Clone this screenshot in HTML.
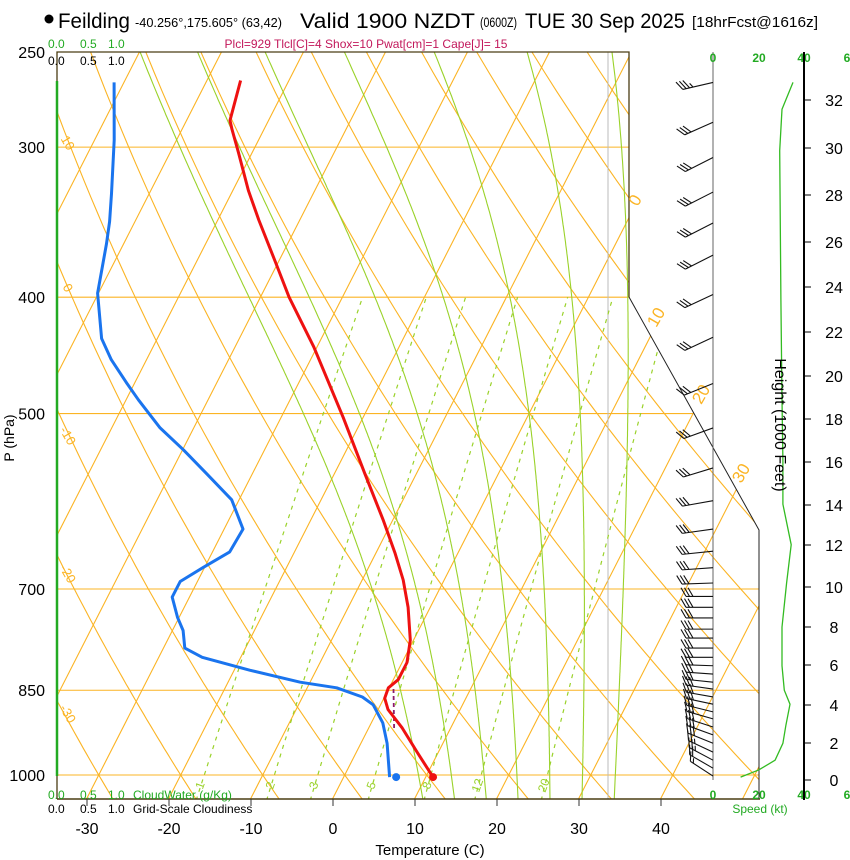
<!DOCTYPE html>
<html><head><meta charset="utf-8"><style>
body{margin:0;background:#fff;}
svg{display:block;font-family:"Liberation Sans",sans-serif;}
</style></head><body>
<svg id="chart" width="850" height="860" viewBox="0 0 850 860" xmlns="http://www.w3.org/2000/svg">
<defs><clipPath id="frameClip"><path d="M57,52 L629,52 L629,297 L759,530 L759,799 L57,799 Z"/></clipPath></defs>
<rect width="850" height="860" fill="#fff"/>
<g id="bg" clip-path="url(#frameClip)"></g>
<g id="fg"></g>
<g>
<circle cx="49" cy="19" r="4.5" fill="#000"/>
<text x="58" y="28" font-size="21" textLength="72" lengthAdjust="spacingAndGlyphs">Feilding</text>
<text x="135" y="27" font-size="12.5" textLength="147" lengthAdjust="spacingAndGlyphs">-40.256°,175.605° (63,42)</text>
<text x="300" y="28" font-size="21" textLength="175" lengthAdjust="spacingAndGlyphs">Valid 1900 NZDT</text>
<text x="480" y="27" font-size="13.5" textLength="37" lengthAdjust="spacingAndGlyphs">(0600Z)</text>
<text x="525" y="28" font-size="21" textLength="160" lengthAdjust="spacingAndGlyphs">TUE 30 Sep 2025</text>
<text x="692" y="27" font-size="15" textLength="126" lengthAdjust="spacingAndGlyphs">[18hrFcst@1616z]</text>
</g>
<text x="366" y="48" font-size="12" fill="#c2185b" text-anchor="middle">Plcl=929 Tlcl[C]=4 Shox=10 Pwat[cm]=1 Cape[J]= 15</text>
<g font-size="12">
<text x="48" y="48" fill="#22aa22">0.0</text><text x="80" y="48" fill="#22aa22">0.5</text><text x="108" y="48" fill="#22aa22">1.0</text>
<text x="48" y="65" fill="#000">0.0</text><text x="80" y="65" fill="#000">0.5</text><text x="108" y="65" fill="#000">1.0</text>
</g>
<g font-size="12">
<text x="48" y="799" fill="#22aa22">0.0</text><text x="80" y="799" fill="#22aa22">0.5</text><text x="108" y="799" fill="#22aa22">1.0</text>
<text x="133" y="799" fill="#22aa22">CloudWater (g/Kg)</text>
<text x="48" y="813" fill="#000">0.0</text><text x="80" y="813" fill="#000">0.5</text><text x="108" y="813" fill="#000">1.0</text>
<text x="133" y="813" fill="#000">Grid-Scale Cloudiness</text>
</g>
<text x="430" y="855" font-size="15" text-anchor="middle">Temperature (C)</text>
<text transform="translate(14,438) rotate(-90)" font-size="14" text-anchor="middle">P (hPa)</text>
<text transform="translate(775,425) rotate(90)" font-size="16" text-anchor="middle">Height (1000 Feet)</text>
<text x="760" y="813" font-size="12" fill="#22aa22" text-anchor="middle">Speed (kt)</text>
</svg>
<script>
const tempP=[264,285,290,303,326,345,375,400,440,504,561,613,653,688,725,772,806,833,846,863,882,914,957,1004];
const tempT=[-55.9,-54.7,-53.9,-51.7,-48.1,-45.0,-40.2,-36.5,-30.4,-22.4,-16.3,-11.2,-7.7,-5.0,-2.7,-0.4,0.6,0.6,-0.1,0.1,1.2,4.1,7.4,10.9];
const dewP=[265,296,328,346,361,397,433,451,472,487,514,536,561,590,624,652,672,690,711,739,758,784,798,818,837,846,861,874,905,941,1004];
const dewT=[-71.2,-67.6,-64.6,-63.1,-62.1,-60.1,-56.8,-54.3,-50.9,-48.5,-44.1,-39.9,-35.6,-30.9,-27.7,-27.9,-30.2,-32.1,-32.1,-30.2,-28.7,-27.4,-24.7,-18.1,-11.2,-6.4,-2.7,-0.9,1.4,3.2,5.6];
const sfcP=1004;
const sfcT=10.9;
const sfcTd=6.4;
const parcelP=[848,914];
const parcelT=[0.6,3.1];
const speedP=[265,279,302,402,487,547,595,643,692,753,811,850,873,909,941,972,990,1004];
const speedKt=[34.8,30,29,29.5,30,30.4,30.4,34,32,30,30,31,33.5,31.7,30.4,27,20,12];
const barbP=[265,286,306,327,347,369,398,432,472,514,555,591,624,651,672,692,710,725,740,756,769,784,798,811,824,837,848,861,873,886,898,912,926,941,957,972,987,1002];
const barbDir=[257,246,243,243,243,243,245,245,248,250,253,260,262,264,266,268,270,270,270,270,270,270,270,272,274,276,278,280,282,284,286,288,290,292,295,298,300,303];
const barbKt=[35,30,30,30,30,30,30,30,30,30,30,30,32,34,34,32,30,30,30,30,30,30,30,30,30,30,30,30,30,32,33,32,30,30,28,25,20,15];
const pressureTicks=[250,300,400,500,700,850,1000];
const tempTicks=[-30,-20,-10,0,10,20,30,40];
const heightTicks=[0,2,4,6,8,10,12,14,16,18,20,22,24,26,28,30,32];
const heightTickY=[780,743,705,665,627,587,545,505,462,419,376,332,287,242,195,148,100];
const mixRatios=[1,2,3,5,8,12,20];
const moistThetaW=[9,13,17,21,25,29,33];

const NS='http://www.w3.org/2000/svg';
function yP(p){return 775+521.5*Math.log(p/1000);}
function xT(t,p){return 333+8.2*t+0.51*(798-yP(p));}
function xTy(t,y){return 333+8.2*t+0.51*(798-y);}
function mk(tag,attrs,parent){const e=document.createElementNS(NS,tag);for(const k in attrs)e.setAttribute(k,attrs[k]);parent.appendChild(e);return e;}
const bg=document.getElementById('bg');
const fg=document.getElementById('fg');
const ORANGE='#fbb424', LGREEN='#9ad22a';

for(let t=-130;t<=60;t+=10){
  const l=mk('line',{x1:xTy(t,799),y1:799,x2:xTy(t,52),y2:52,stroke:ORANGE,'stroke-width':1.1},bg);
  
  
}
for(let th=-40;th<=200;th+=10){
  let d='';
  for(let p=1050;p>=245;p-=10){
    const T=(th+273.15)*Math.pow(p/1000,0.286)-273.15;
    d+=(d?'L':'M')+xT(T,p).toFixed(1)+','+yP(p).toFixed(1);
  }
  const e=mk('path',{d:d,fill:'none',stroke:ORANGE,'stroke-width':1.1},bg);
  
  
}
pressureTicks.forEach(p=>{
  if(p===250)return;
  const e=mk('line',{x1:57,x2:760,y1:yP(p),y2:yP(p),stroke:ORANGE,'stroke-width':1.1},bg);
  
  
});
const gv=mk('line',{x1:608,x2:608,y1:52,y2:799,stroke:'#bbb','stroke-width':1},bg);


function esat(tc){return 6.112*Math.exp(17.67*tc/(tc+243.5));}
function tdFromW(w,p){const e=w*p/(622+w);const L=Math.log(e/6.112);return 243.5*L/(17.67-L);}
mixRatios.forEach(w=>{
  let d='';
  for(let p=1050;p>=400;p-=10){d+=(d?'L':'M')+xT(tdFromW(w,p),p).toFixed(1)+','+yP(p).toFixed(1);}
  const e=mk('path',{d:d,fill:'none',stroke:LGREEN,'stroke-width':1.2,'stroke-dasharray':'4,5'},bg);
  
  
  const lx=xT(tdFromW(w,1015),1015);
  const t=mk('text',{transform:`translate(${lx+2},${yP(1015)+4}) rotate(-70)`,fill:LGREEN,'font-size':12,'text-anchor':'middle'},fg);
  t.textContent=String(w);
  
  
});
function moistPath(tw){
  const Rd=287,cp=1005,Lv=2.5e6,eps=0.622;
  function step(T,p,dp){const tc=T-273.15;const es=esat(tc);const rs=eps*es/(p-es);
    const g=(Rd*T+Lv*rs)/(p*(cp+Lv*Lv*rs*eps/(Rd*T*T)));return T+g*dp;}
  let T=tw+273.15;
  for(let p=1000;p<1050;p+=2){T=step(T,p,2);} const Tb=T;
  T=tw+273.15;
  const up=[];for(let p=1000;p>=240;p-=2){up.push([p,T]);T=step(T,p,-2);}
  const pts=[[1050,Tb]].concat(up);
  return pts.map((q,i)=>(i?'L':'M')+xT(q[1]-273.15,q[0]).toFixed(1)+','+yP(q[0]).toFixed(1)).join('');
}
moistThetaW.forEach(tw=>{
  const e=mk('path',{d:moistPath(tw),fill:'none',stroke:LGREEN,'stroke-width':1.1},bg);
  
  
});
const fr=mk('path',{d:'M629,297 L759,530 L759,799',fill:'none',stroke:'#222','stroke-width':1},fg);


const fr2=mk('path',{d:'M57,799 L57,52 L629,52 L629,297',fill:'none',stroke:'#4a3d14','stroke-width':1.3},fg);


const fr3=mk('line',{x1:57,x2:760,y1:799,y2:799,stroke:'#4a3d14','stroke-width':1.5},fg);


const cw=mk('line',{x1:57,x2:57,y1:81,y2:776,stroke:'#22aa22','stroke-width':2.5},fg);


const isoLabels=[['0',640,203,-60],['10',661,320,-60],['20',706,397,-60],['30',746,476,-60]];
isoLabels.forEach(a=>{const t=mk('text',{transform:`translate(${a[1]},${a[2]}) rotate(${a[3]})`,fill:ORANGE,'font-size':17,'text-anchor':'middle'},fg);t.textContent=a[0];
  
  });
const adLabels=[['10',64,145],['0',64,290],['-10',64,438],['-20',64,576],['-30',64,716]];
adLabels.forEach(a=>{const t=mk('text',{transform:`translate(${a[1]},${a[2]}) rotate(60)`,fill:ORANGE,'font-size':13,'text-anchor':'middle'},fg);t.textContent=a[0];
  
  });
pressureTicks.forEach(p=>{const t=mk('text',{x:45,y:yP(p)+6,'font-size':16,'text-anchor':'end'},fg);t.textContent=String(p);
  
  });
tempTicks.forEach(v=>{const x=333+8.2*v;
  const l=mk('line',{x1:x,x2:x,y1:799,y2:806,stroke:'#333'},fg);
  
  
  const t=mk('text',{x:x,y:834,'font-size':16,'text-anchor':'middle'},fg);t.textContent=String(v);
  
  });
const sa=mk('line',{x1:713,x2:713,y1:52,y2:780,stroke:'#666','stroke-width':1},fg);


[['0',713],['20',759],['40',804],['6',847]].forEach(a=>{[62,799].forEach(yy=>{
  const t=mk('text',{x:a[1],y:yy,'font-size':12,fill:'#22aa22','text-anchor':'middle','font-weight':'bold'},fg);t.textContent=a[0];
  
  });});
const ha=mk('line',{x1:804,x2:804,y1:52,y2:800,stroke:'#000','stroke-width':2},fg);


heightTicks.forEach((h,i)=>{const y=heightTickY[i];
  const l=mk('line',{x1:804,x2:811,y1:y,y2:y,stroke:'#000'},fg);
  
  
  const t=mk('text',{x:834,y:y+6,'font-size':16,'text-anchor':'middle'},fg);t.textContent=String(h);
  
  });
const sd=speedP.map((p,i)=>(i?'L':'M')+(713+2.3*speedKt[i]).toFixed(1)+','+yP(p).toFixed(1)).join('');
const sp=mk('path',{d:sd,fill:'none',stroke:'#33bb22','stroke-width':1.3},fg);


barbP.forEach((p,i)=>{
  const y0=yP(p);const a=barbDir[i]*Math.PI/180;
  const L=p>700?27:31;
  const ux=Math.sin(a),uy=-Math.cos(a);
  const ex=713+ux*L,ey=y0+uy*L;
  const g=mk('g',{stroke:'#111','stroke-width':1.1},fg);
  
  
  mk('line',{x1:713,y1:y0,x2:ex,y2:ey},g);
  const c=Math.cos(Math.PI/3),s=Math.sin(Math.PI/3);
  const fx=c*ux-s*uy,fy=s*ux+c*uy;
  const n=Math.floor(barbKt[i]/10);const half=(barbKt[i]%10)>=5;
  let k=0;
  for(;k<n;k++){const bx=ex-ux*3.5*k,by=ey-uy*3.5*k;mk('line',{x1:bx,y1:by,x2:bx+fx*10,y2:by+fy*10},g);}
  if(half){const bx=ex-ux*3.5*k,by=ey-uy*3.5*k;mk('line',{x1:bx,y1:by,x2:bx+fx*5,y2:by+fy*5},g);}
});
function prof(P,T,color,name){
  const d=P.map((p,i)=>(i?'L':'M')+xT(T[i],p).toFixed(1)+','+yP(p).toFixed(1)).join('');
  const e=mk('path',{d:d,fill:'none',stroke:color,'stroke-width':3,'stroke-linejoin':'round'},fg);
  
  
}
const pp=mk('path',{d:parcelP.map((p,i)=>(i?'L':'M')+xT(parcelT[i],p).toFixed(1)+','+yP(p).toFixed(1)).join(''),fill:'none',stroke:'#8b1a6b','stroke-width':1.8,'stroke-dasharray':'4,3'},fg);


prof(dewP,dewT,'#1a74ee','dewpoint-profile');
prof(tempP,tempT,'#ee1111','temperature-profile');
const d1=mk('circle',{cx:xT(sfcTd,sfcP),cy:yP(sfcP),r:4,fill:'#1a74ee'},fg);


const d2=mk('circle',{cx:xT(sfcT,sfcP),cy:yP(sfcP),r:4,fill:'#ee1111'},fg);


</script>
</body></html>
